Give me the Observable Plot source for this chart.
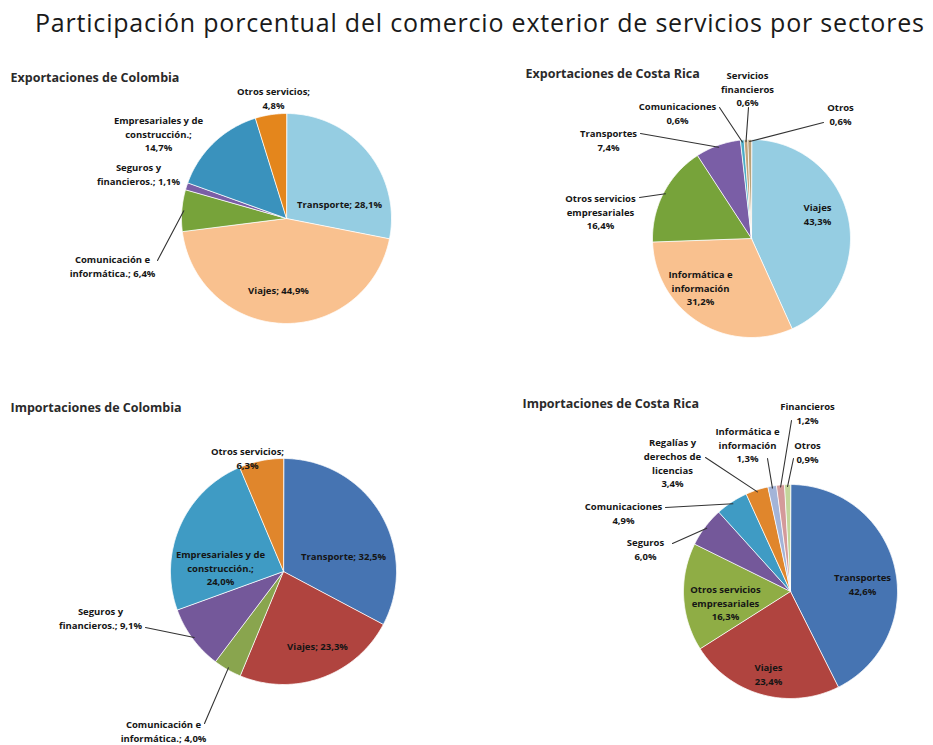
<!DOCTYPE html>
<html>
<head>
<meta charset="utf-8">
<script src="https://cdn.jsdelivr.net/npm/d3@7"></script>
<script src="https://cdn.jsdelivr.net/npm/@observablehq/plot@0.6"></script>
<style>
  html, body { margin: 0; padding: 0; background: #fff; }
  #wrap { position: relative; width: 933px; height: 745px; overflow: hidden; }
  #title { position: absolute; left: 35px; top: 7px; line-height: 30px; font-family: "Open Sans", sans-serif; font-size: 25px; letter-spacing: 0.8px; color: #1a1a1a; white-space: nowrap; }
  #chart { position: absolute; left: 0; top: 60px; }
</style>
</head>
<body>
<div id="wrap">
  <div id="title">Participación porcentual del comercio exterior de servicios por sectores</div>
  <div id="chart"></div>
</div>
<script>
// ---------- DATA ----------
const expColCats = ["Transporte; ", "Viajes; ", "Comunicación e\ninformática.; ", "Seguros y\nfinancieros.; ", "Empresariales y de\nconstrucción.;\n", "Otros servicios;\n"];
const expColVals = [28.1, 44.9, 6.4, 1.1, 14.7, 4.8];

const expCRCats = ["Viajes\n", "Informática e\ninformación\n", "Otros servicios\nempresariales\n", "Transportes\n", "Comunicaciones\n", "Servicios\nfinancieros\n", "Otros\n"];
const expCRVals = [43.3, 31.2, 16.4, 7.4, 0.6, 0.6, 0.6];

const impColCats = ["Transporte; ", "Viajes; ", "Comunicación e\ninformática.; ", "Seguros y\nfinancieros.; ", "Empresariales y de\nconstrucción.;\n", "Otros servicios;\n"];
const impColVals = [32.5, 23.3, 4.0, 9.1, 24.0, 6.3];

const impCRCats = ["Transportes\n", "Viajes\n", "Otros servicios\nempresariales\n", "Seguros\n", "Comunicaciones\n", "Regalías y\nderechos de\nlicencias\n", "Informática e\ninformación\n", "Financieros\n", "Otros\n"];
const impCRVals = [42.6, 23.4, 16.3, 6.0, 4.9, 3.4, 1.3, 1.2, 0.9];

const panelTitles = ["Exportaciones de Colombia", "Exportaciones de Costa Rica", "Importaciones de Colombia", "Importaciones de Costa Rica"];

// ---------- STYLES ----------
const expColColors = ["#95cde2", "#f9c18f", "#77a33a", "#7a5ea6", "#3a92bd", "#e4861c"];
const expCRColors  = ["#95cde2", "#f9c18f", "#77a33a", "#7a5ea6", "#4bacc6", "#c2a27a", "#b9a27a"];
const impColColors = ["#4674b2", "#b0443f", "#89a54e", "#74589a", "#3f9bc4", "#e0862c"];
const impCRColors  = ["#4674b2", "#b0443f", "#8fad45", "#74589a", "#3f9bc4", "#e0862c", "#a3b4d8", "#d49a9a", "#c3d69b"];

// ---------- LAYOUT ----------
const layout = [
  {cats: expColCats, vals: expColVals, colors: expColColors, cx: 286, cy: 158, r: 105, tx: 10, ty: 17,
   lab: [[53,-15],[-8,71],[-174,47],[-148,-45],[-128,-85],[-13,-121]],
   lead: [null,null,[-129,42],null,null,null]},
  {cats: expCRCats, vals: expCRVals, colors: expCRColors, cx: 751, cy: 178, r: 99, tx: 525, ty: 13,
   lab: [[66,-25],[-51,49],[-151,-27],[-143,-99],[-74,-126],[-4,-150],[89,-125]],
   lead: [null,null,[-112,-41],[-111,-105],[-32,-131],[-3,-131],[72,-116]]},
  {cats: impColCats, vals: impColVals, colors: impColColors, cx: 283, cy: 511, r: 113, tx: 10, ty: 347,
   lab: [[60,-16],[34,74],[-120,159],[-183,46],[-63,-4],[-36,-114]],
   lead: [null,null,[-79,152],[-138,56],null,null]},
  {cats: impCRCats, vals: impCRVals, colors: impCRColors, cx: 790, cy: 531, r: 107, tx: 522, ty: 343,
   lab: [[72,-8],[-22,82],[-65,11],[-145,-43],[-167,-79],[-118,-129],[-43,-147],[17,-179],[17,-140]],
   lead: [null,null,null,[-118,-48],[-125,-84],[-85,-134],[-23,-133],[1,-171],[3,-133]]}
];

const fmt = v => d3.format(".1f")(v).replace(".", ",") + "%";

const slicePts = [], labels = [], leaders = [], titles = [];
layout.forEach((p, pi) => {
  const arcs = d3.pie().sort(null).value(d => d)(p.vals);
  arcs.forEach((a, i) => {
    const id = pi + "-" + i;
    slicePts.push({id, x: p.cx, y: p.cy, c: p.colors[i]});
    const n = Math.max(2, Math.ceil((a.endAngle - a.startAngle) / 0.01));
    for (let k = 0; k <= n; k++) {
      const t = a.startAngle + (a.endAngle - a.startAngle) * k / n;
      slicePts.push({id, x: p.cx + p.r * Math.sin(t), y: p.cy - p.r * Math.cos(t), c: p.colors[i]});
    }
    labels.push({x: p.cx + p.lab[i][0], y: p.cy + p.lab[i][1], text: p.cats[i] + fmt(p.vals[i])});
    if (p.lead[i]) {
      const m = (a.startAngle + a.endAngle) / 2;
      leaders.push({id, x: p.cx + p.lead[i][0], y: p.cy + p.lead[i][1]});
      leaders.push({id, x: p.cx + (p.r - 2) * Math.sin(m), y: p.cy - (p.r - 2) * Math.cos(m)});
    }
  });
  titles.push({x: p.tx, y: p.ty, text: panelTitles[pi]});
});

const chart = Plot.plot({
  width: 933, height: 685, margin: 0,
  style: {fontFamily: "'Open Sans', sans-serif", background: "#fff"},
  x: {domain: [0, 933], range: [0, 933], axis: null},
  y: {domain: [0, 685], range: [0, 685], axis: null},
  color: {type: "identity"},
  marks: [
    Plot.line(slicePts, {x: "x", y: "y", z: "id", fill: "c", stroke: "#fff", strokeWidth: 0.8, curve: "linear-closed"}),
    Plot.line(leaders, {x: "x", y: "y", z: "id", stroke: "#333", strokeWidth: 1.1}),
    Plot.text(labels, {x: "x", y: "y", text: "text", fontSize: 9.5, fontWeight: "bold", lineHeight: 1.43, fill: "#151515"}),
    Plot.text(titles, {x: "x", y: "y", text: "text", textAnchor: "start", fontSize: 12.5, fontWeight: "bold", fill: "#2a2a2a"})
  ]
});
document.getElementById("chart").appendChild(chart);
</script>
</body>
</html>
